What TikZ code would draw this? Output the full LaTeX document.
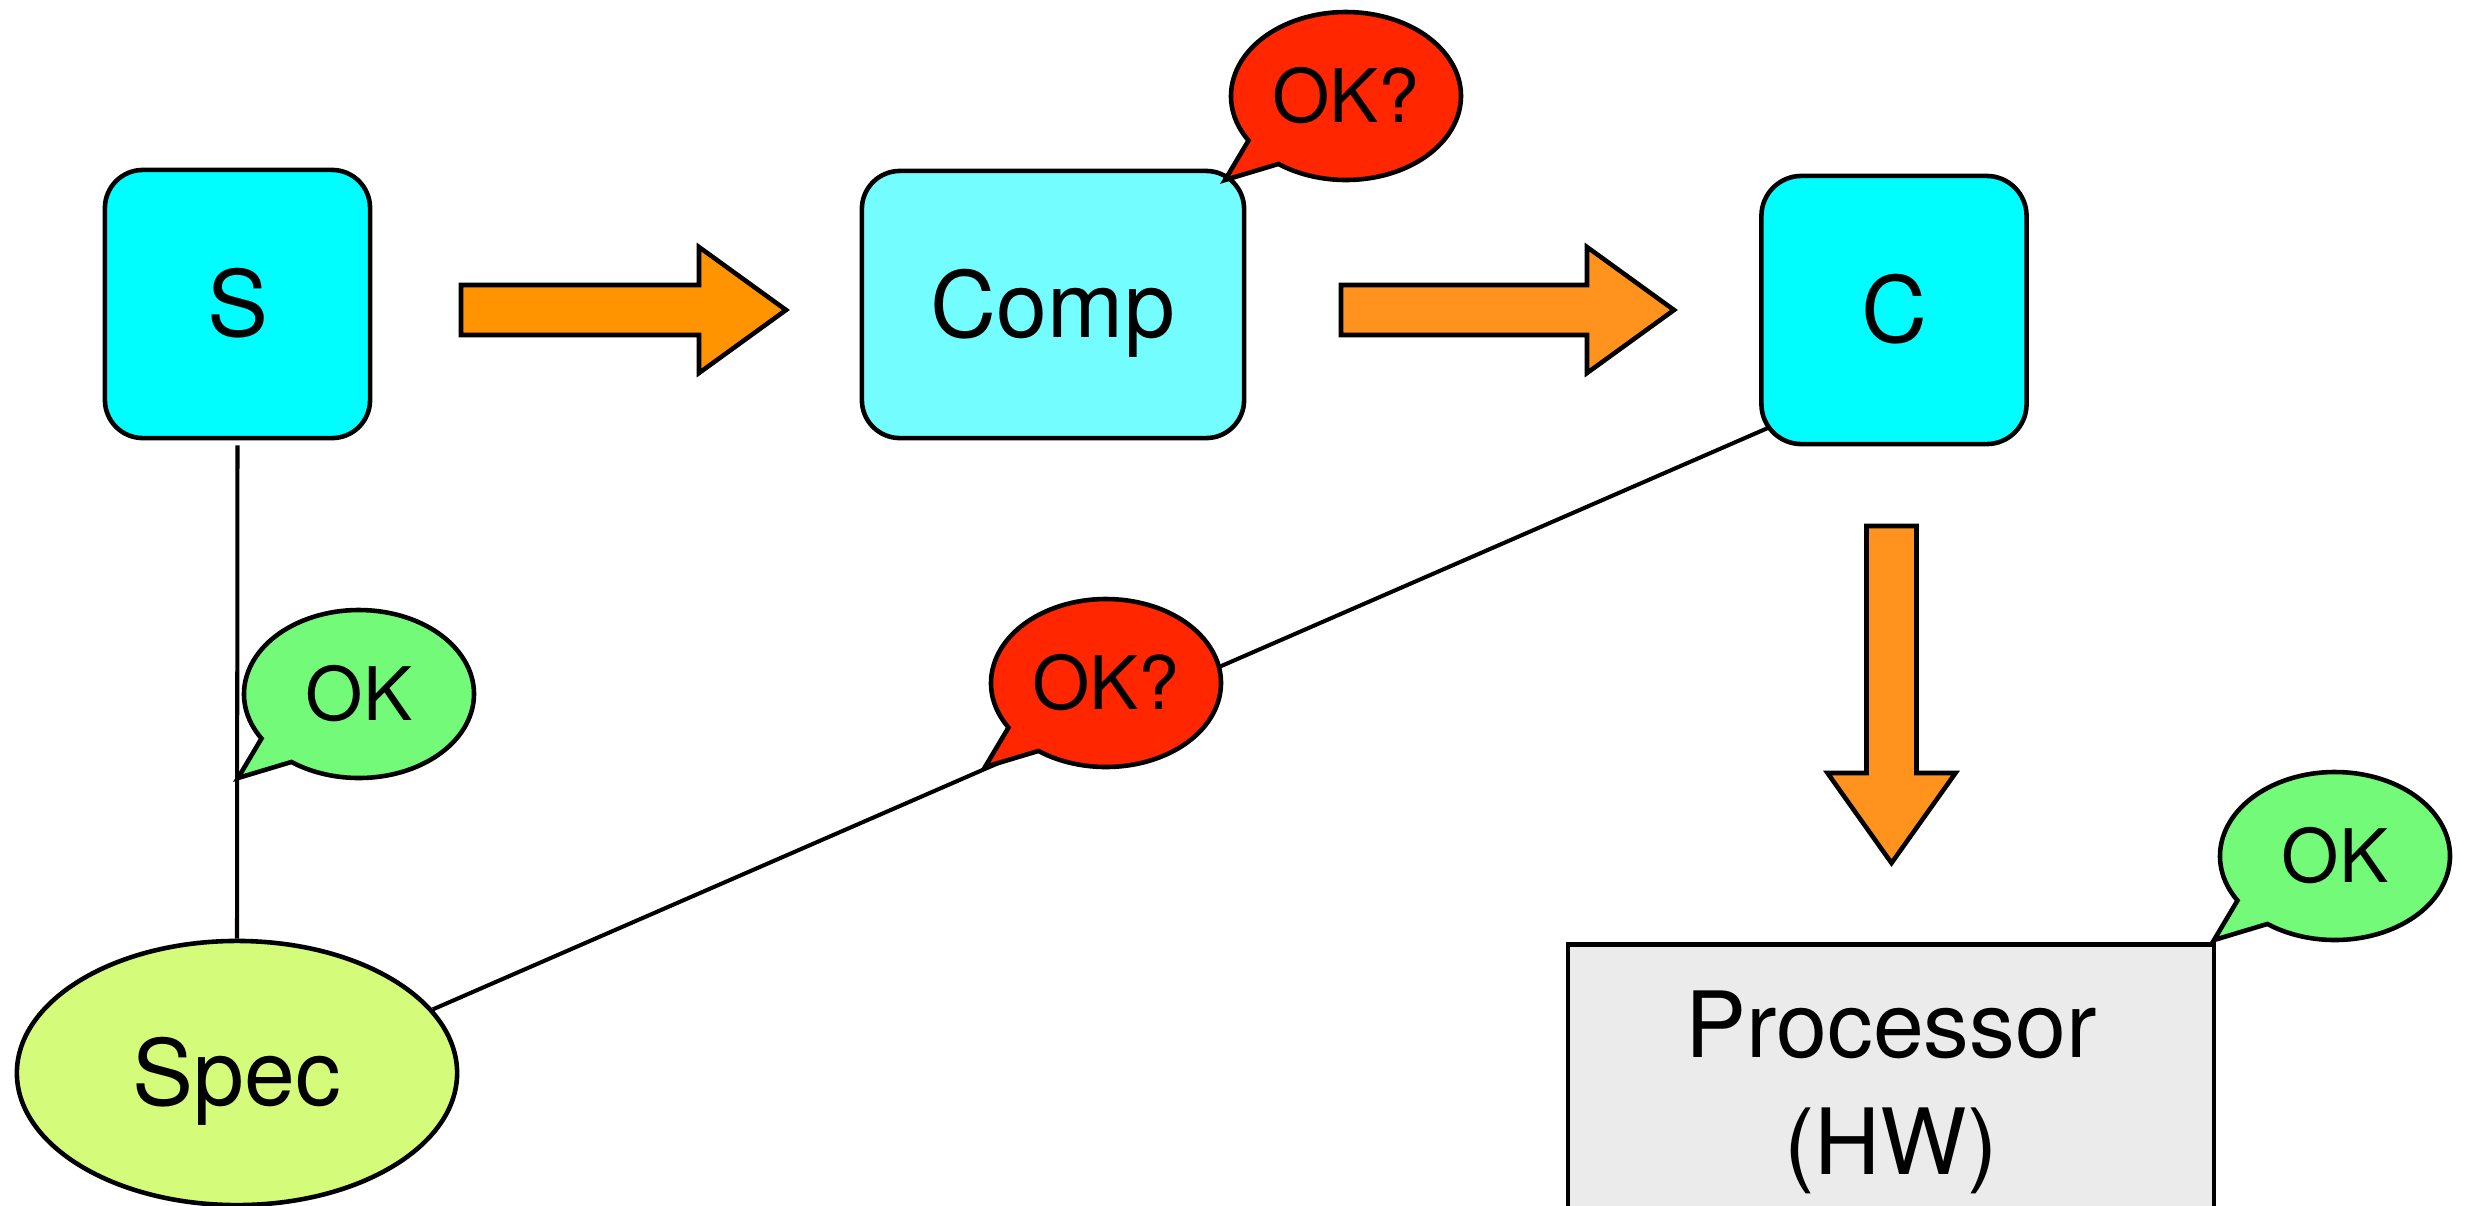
\documentclass[tikz,border=0pt]{standalone}
\usepackage{fontspec}
\setmainfont{TeX Gyre Heros}
\usetikzlibrary{calc,backgrounds,shapes.geometric}

\definecolor{turq}{HTML}{00FDFF}
\definecolor{ice}{HTML}{73FDFF}
\definecolor{tangerine}{HTML}{FF9300}
\definecolor{tangerinesoft}{HTML}{FF931E}
\definecolor{maraschino}{HTML}{FF2600}
\definecolor{flora}{HTML}{73FA79}
\definecolor{honeydew}{HTML}{D4FB79}
\definecolor{mercury}{HTML}{EBEBEB}

\tikzset{
  outline/.style={draw=black, line width=1.3pt},
  bigtext/.style={font=\fontsize{26pt}{33.2pt}\selectfont},
  roundbox/.style={outline, bigtext, rectangle, rounded corners=0.38cm,
    inner sep=0pt, minimum width=2.65cm, minimum height=2.68cm,
    text height=18.7pt, text depth=0pt},
  specshape/.style={outline, bigtext, ellipse, fill=honeydew, inner sep=0pt,
    minimum width=4.4cm, minimum height=2.64cm, text height=18.7pt, text depth=0pt},
  procbox/.style={outline, bigtext, rectangle, fill=mercury, inner sep=0pt,
    minimum width=6.46cm, minimum height=2.96cm, anchor=north, align=center},
  bubble/.style={outline},
  bubbletext/.style={font=\fontsize{21pt}{25pt}\selectfont, inner sep=0pt,
    text height=15.1pt, text depth=0pt},
  blockarrow/.style={outline},
  wire/.style={draw=black, line width=1.15pt},
}

% speech bubble: name, centre, fill colour, text
\newcommand{\okbubble}[4]{%
  \draw[bubble, fill=#3] ($(#2)+(148:115 and 84)$)
    arc[start angle=148, end angle=486, x radius=115, y radius=84]
    -- ($(#2)+(-121,84)$) -- cycle;
  \node[bubbletext] (#1) at (#2) {#4};
}
% horizontal block arrow: tail, tip, fill colour
\newcommand{\blockarrowh}[3]{%
  \draw[blockarrow, fill=#3] ($(#1)+(0,-25)$) -- ($(#2)+(-87,-25)$)
    -- ($(#2)+(-87,-63)$) -- (#2) -- ($(#2)+(-87,63)$)
    -- ($(#2)+(-87,25)$) -- ($(#1)+(0,25)$) -- cycle;
}
% vertical block arrow (pointing down): tail, tip, fill colour
\newcommand{\blockarrowv}[3]{%
  \draw[blockarrow, fill=#3] ($(#1)+(-25,0)$) -- ($(#2)+(-25,-90)$)
    -- ($(#2)+(-64,-90)$) -- (#2) -- ($(#2)+(64,-90)$)
    -- ($(#2)+(25,-90)$) -- ($(#1)+(25,0)$) -- cycle;
}

\begin{document}
\begin{tikzpicture}[x=0.01cm, y=-0.01cm]
\useasboundingbox (0,0) rectangle (2468,1205);
\clip (0,0) rectangle (2468,1205);

% main blocks
\node[roundbox, fill=turq] (S) at (237.5,304) {S};
\node[roundbox, fill=ice, minimum width=3.82cm, minimum height=2.67cm] (comp) at (1053,304.5) {Comp};
\node[roundbox, fill=turq, rounded corners=0.4cm] (C) at (1894,310) {C};
\node[specshape] (spec) at (237,1073) {Spec};
\node[procbox] (proc) at (1891,942) {Processor\\(HW)};

% flow arrows
\coordinate (f1tail) at (461,310);
\coordinate (f1tip) at (786,310);
\coordinate (f2tail) at (1341,310);
\coordinate (f2tip) at (1674,310);
\coordinate (f3tail) at (1891.5,526);
\coordinate (f3tip) at (1891.5,863);
\blockarrowh{f1tail}{f1tip}{tangerine}
\blockarrowh{f2tail}{f2tip}{tangerinesoft}
\blockarrowv{f3tail}{f3tip}{tangerinesoft}

% links to the specification
\begin{pgfonlayer}{background}
  \fill[white] (0,0) rectangle (2468,1205);
  \draw[wire] ([yshift=-0.05cm]S.south) -- (spec.north);
  \draw[wire] (spec.18) -- ($(C.center)+(-94,104)$);
\end{pgfonlayer}

% verdict bubbles
\coordinate (b1) at (1346,96);
\coordinate (b2) at (359,694);
\coordinate (b3) at (1106,683);
\coordinate (b4) at (2335,856);
\okbubble{okcomp}{b1}{maraschino}{OK?}
\okbubble{okspec}{b2}{flora}{OK}
\okbubble{oklink}{b3}{maraschino}{OK?}
\okbubble{okproc}{b4}{flora}{OK}
\end{tikzpicture}
\end{document}
